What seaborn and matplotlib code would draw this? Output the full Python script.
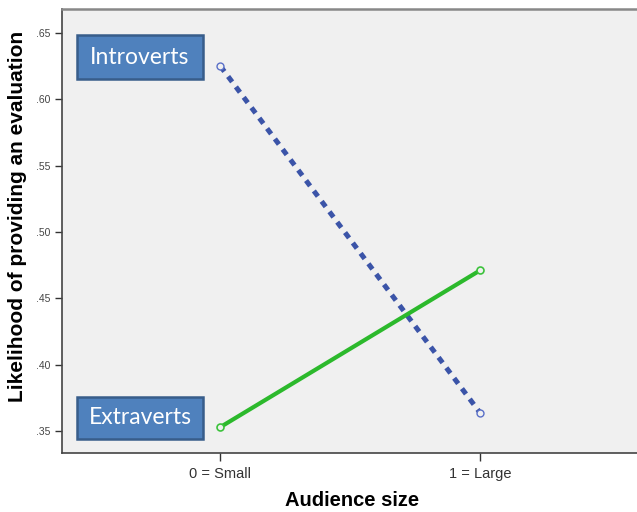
import matplotlib
matplotlib.use("Agg")
import matplotlib.pyplot as plt
import matplotlib.patches as mpatches
import seaborn as sns
import pandas as pd

audience = [0, 1]
tick_labels = ["0 = Small", "1 = Large"]
introverts = [0.625, 0.364]
extraverts = [0.353, 0.471]
yticks = [0.35, 0.40, 0.45, 0.50, 0.55, 0.60, 0.65]
ytick_labels = [".35", ".40", ".45", ".50", ".55", ".60", ".65"]

df = pd.DataFrame({
    "x": audience * 2,
    "y": introverts + extraverts,
    "group": ["Introverts"] * 2 + ["Extraverts"] * 2,
})

sns.set_theme(style="white")
plt.rcParams['font.family'] = ['Liberation Sans', 'DejaVu Sans']

W, H = 637, 512
fig = plt.figure(figsize=(6.37, 5.12), dpi=100)
ax = fig.add_axes([62/W, 1 - 453/H, 1 - 62/W + 0.01, (453 - 9)/H])
ax.set_facecolor("#f0f0f0")

blue = "#3b54a8"
green = "#2cb92c"
sns.lineplot(data=df[df.group == "Introverts"], x="x", y="y", ax=ax, color=blue,
             linewidth=3.6, linestyle=(0, (1.35, 1.25)), legend=False)
sns.lineplot(data=df[df.group == "Extraverts"], x="x", y="y", ax=ax, color=green,
             linewidth=3.0, legend=False)
ax.plot(audience, introverts, linestyle="none", marker="o", markersize=5,
        markerfacecolor="#f0f0f0", markeredgecolor="#5a70c8", markeredgewidth=1.0)
ax.plot(audience, extraverts, linestyle="none", marker="o", markersize=5,
        markerfacecolor="#f0f0f0", markeredgecolor="#3cc23c", markeredgewidth=1.2)

ax.set_xlim(-0.61, 1.63)
ax.set_ylim(0.3335, 0.668)
ax.set_xticks(audience)
ax.set_xticklabels(tick_labels, fontsize=10.5, color="#333333")
ax.set_yticks(yticks)
ax.set_yticklabels(ytick_labels, fontsize=7.5, color="#444444")
ax.tick_params(axis="both", direction="out", length=5, width=1, color="#333333",
               left=True, bottom=True)
ax.tick_params(axis="x", pad=4, length=6)

for s in ["left", "bottom"]:
    ax.spines[s].set_color("#444444")
    ax.spines[s].set_linewidth(1.2)
ax.spines["top"].set_color("#888888")
ax.spines["top"].set_linewidth(1.8)
ax.spines["right"].set_visible(False)

ax.set_xlabel("Audience size", fontsize=14.5, fontweight="bold", color="black")
ax.set_ylabel("Likelihood of providing an evaluation", fontsize=15, fontweight="bold", color="black")
axw = W - 62 + 0.01 * W
axh = 453 - 9
ax.xaxis.set_label_coords((352 - 62) / axw, -(500 - 453) / axh)
ax.yaxis.set_label_coords(-(62 - 18) / axw, (453 - 216) / axh)
ax.xaxis.label.set_va("center")
ax.yaxis.label.set_va("center")

def label_box(x0, y0, x1, y1, text):
    rect = mpatches.Rectangle((x0 / W, 1 - y1 / H), (x1 - x0) / W, (y1 - y0) / H,
                              transform=fig.transFigure, facecolor="#4f81bd",
                              edgecolor="#385d8a", linewidth=1.8, zorder=5)
    fig.add_artist(rect)
    fig.text((x0 + x1) / 2 / W, 1 - (y0 + y1) / 2 / H, text, ha="center", va="center",
             fontsize=16.5, color="white", family=["Lato", "DejaVu Sans"], zorder=6)

label_box(77, 35, 203, 79, "Introverts")
label_box(77, 397, 203, 439, "Extraverts")

fig.savefig("out.png", dpi=100)
